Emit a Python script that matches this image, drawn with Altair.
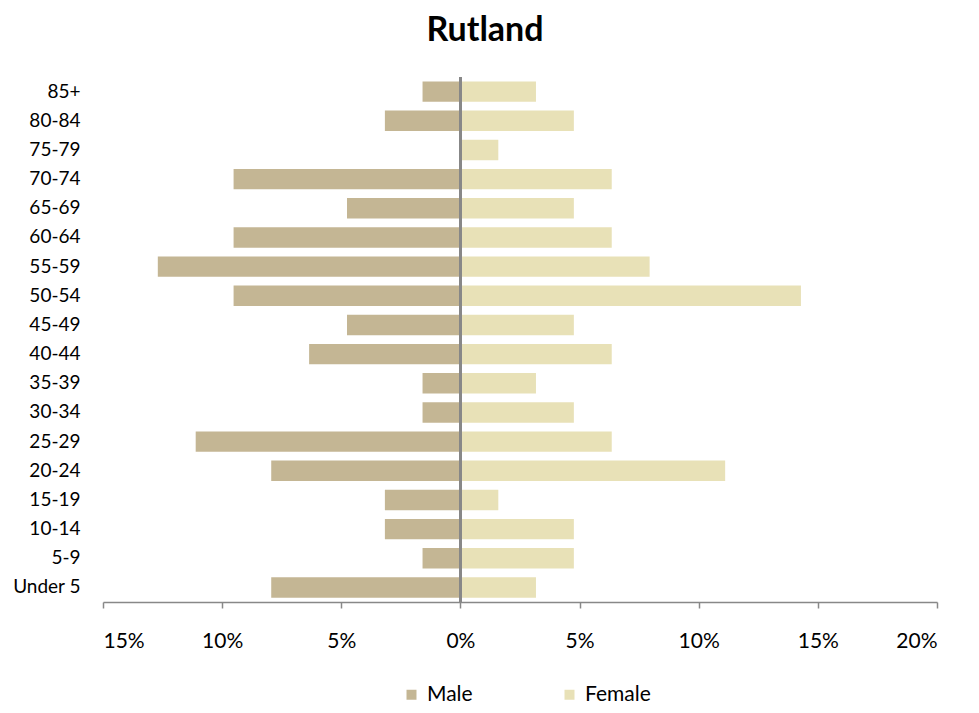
import altair as alt
import pandas as pd

ages = ["85+", "80-84", "75-79", "70-74", "65-69", "60-64", "55-59", "50-54", "45-49",
        "40-44", "35-39", "30-34", "25-29", "20-24", "15-19", "10-14", "5-9", "Under 5"]
male_pct = [1.59, 3.17, 0.0, 9.52, 4.76, 9.52, 12.70, 9.52, 4.76,
            6.35, 1.59, 1.59, 11.11, 7.94, 3.17, 3.17, 1.59, 7.94]
female_pct = [3.17, 4.76, 1.59, 6.35, 4.76, 6.35, 7.94, 14.29, 4.76,
              6.35, 3.17, 4.76, 6.35, 11.11, 1.59, 4.76, 4.76, 3.17]
sexes = ["Male", "Female"]
colors = ["#C4B694", "#E8E1B7"]
x_ticks = [-15, -10, -5, 0, 5, 10, 15, 20]

rows = []
for a, m, f in zip(ages, male_pct, female_pct):
    rows.append({"age": a, "sex": "Male", "pct": m})
    rows.append({"age": a, "sex": "Female", "pct": f})
df = pd.DataFrame(rows)

FONT = "Lato"

bars = alt.Chart(df).transform_calculate(
    signed="datum.sex == 'Male' ? -datum.pct : datum.pct"
).mark_bar().encode(
    x=alt.X("signed:Q",
            scale=alt.Scale(domain=[-15, 20], nice=False, zero=False),
            axis=alt.Axis(values=x_ticks, title=None, grid=False,
                          labelExpr="abs(datum.value) + '%'",
                          domainColor="#888888", domainWidth=1.5,
                          tickColor="#888888", tickWidth=1.5, tickSize=6,
                          labelPadding=22, labelFontSize=21, labelFont=FONT,
                          labelColor="#000000", labelBaseline="top")),
    y=alt.Y("age:N", sort=ages,
            scale=alt.Scale(paddingInner=0.3, paddingOuter=0.15),
            axis=alt.Axis(title=None, domain=False, ticks=False, tickSize=0,
                          labelPadding=23, labelFontSize=19, labelFont=FONT,
                          labelColor="#000000")),
    color=alt.Color("sex:N",
                    scale=alt.Scale(domain=sexes, range=colors),
                    legend=alt.Legend(title=None, orient="none", direction="horizontal",
                                      legendX=298, legendY=607,
                                      symbolType="square", symbolSize=100,
                                      symbolStrokeWidth=0, labelFontSize=21,
                                      labelFont=FONT, labelColor="#000000",
                                      labelOffset=5, columnPadding=86, padding=0)),
)

zero_line = alt.Chart(df).mark_rule(color="#888888", strokeWidth=1.5).encode(
    x=alt.datum(0)
)

chart = alt.layer(bars, zero_line).properties(
    width=834,
    height=525,
    title=alt.TitleParams("Rutland", font=FONT, fontSize=34, fontWeight="bold",
                          color="#000000", anchor="middle", frame="group",
                          dx=-35, offset=28),
    autosize=alt.AutoSizeParams(type="none"),
    padding={"left": 95, "top": 69, "right": 34, "bottom": 103},
).configure(background="#ffffff", view=alt.ViewConfig(stroke=None))

chart.save("out.html", embed_options={"renderer": "svg", "actions": False})
